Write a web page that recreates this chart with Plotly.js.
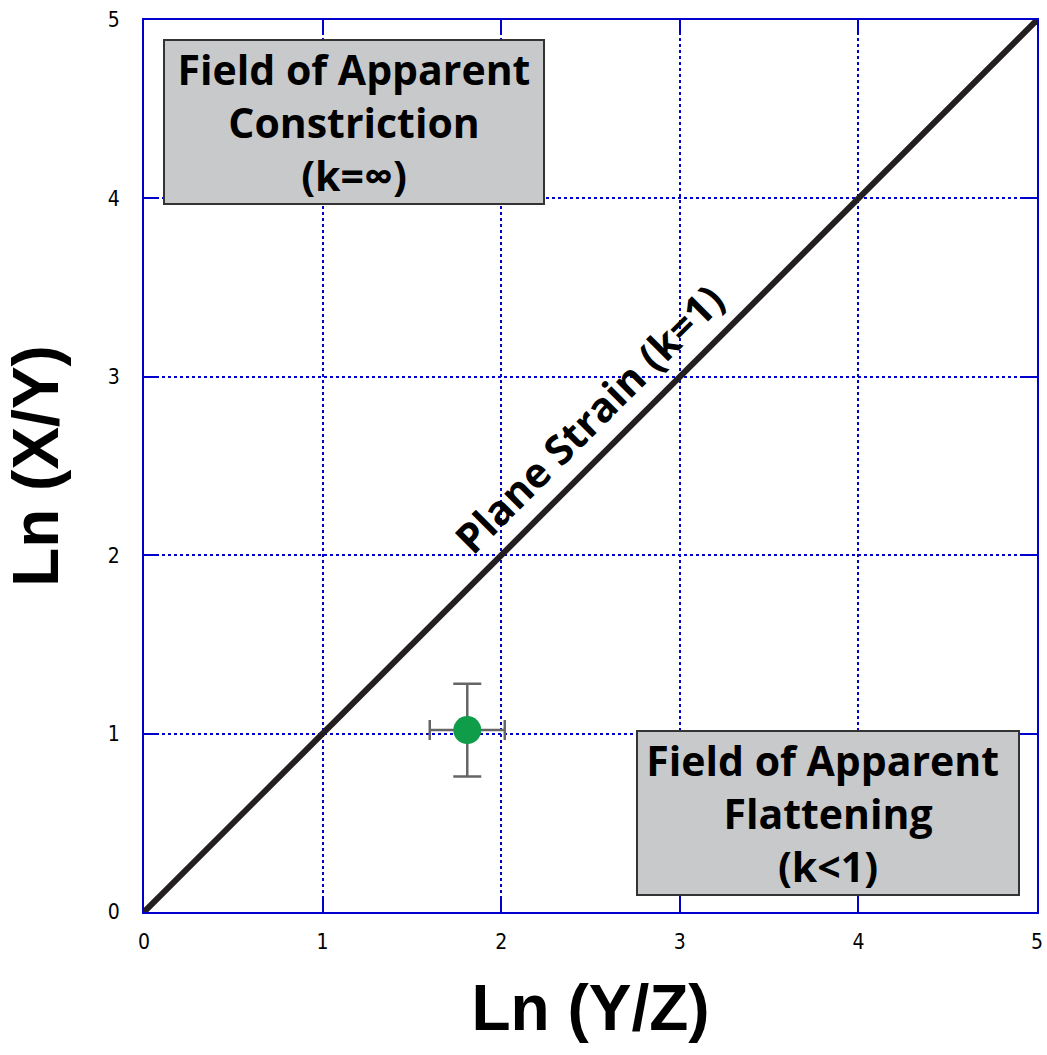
<!DOCTYPE html>
<html>
<head>
<meta charset="utf-8">
<script src="https://cdn.plot.ly/plotly-3.0.1.min.js"></script>
<style>html,body{margin:0;padding:0;background:#fff;}#chart{width:1047px;height:1055px;}</style>
</head>
<body>
<div id="chart"></div>
<script>
// Plane strain reference line (k=1)
const lineX = [0, 5];
const lineY = [0, 5];
// Sample point with error bars
const pointX = [1.81];
const pointY = [1.02];
const errX = [0.21];
const errY = [0.26];
const tickVals = [0, 1, 2, 3, 4, 5];
const tickText = ['0', '1', '2', '3', '4', '5'];
const labelConstriction = 'Field of Apparent<br>Constriction<br>(k=∞)';
const labelFlattening = 'Field of Apparent <br>Flattening<br>(k&lt;1)';
const labelPlane = 'Plane Strain (k=1)';

const blue = '#0000cc';
const traces = [
  {x: lineX, y: lineY, mode: 'lines', line: {color: '#231f20', width: 6}, hoverinfo: 'skip', showlegend: false},
  {x: pointX, y: pointY, mode: 'markers', marker: {color: '#0f9d4a', size: 28},
   error_x: {type: 'constant', value: errX[0], color: '#666666', thickness: 2.5, width: 10},
   error_y: {type: 'constant', value: errY[0], color: '#666666', thickness: 2.5, width: 14},
   showlegend: false}
];
const axisCommon = {
  range: [0, 5], tickvals: tickVals, ticktext: tickText,
  showgrid: true, gridcolor: blue, gridwidth: 2, griddash: 'dot',
  showline: true, linecolor: blue, linewidth: 2, mirror: 'ticks',
  ticks: 'inside', ticklen: 15, tickwidth: 2, tickcolor: blue,
  zeroline: false, fixedrange: true,
  tickfont: {family: 'Liberation Sans Narrow, DejaVu Sans Condensed, sans-serif', size: 21, color: '#000'}
};
const annFont = {family: 'Open Sans, sans-serif', size: 41, color: '#000', weight: 'bold'};
const titleFont = {family: 'Liberation Sans, Arial, sans-serif', size: 64, color: '#000', weight: 'bold'};
const layout = {
  width: 1047, height: 1055,
  margin: {l: 144, r: 10, t: 20, b: 143},
  paper_bgcolor: '#fff', plot_bgcolor: '#fff',
  xaxis: Object.assign({}, axisCommon, {
    ticklabelstandoff: 10,
    title: {text: 'Ln (Y/Z)', font: titleFont, standoff: 32}
  }),
  yaxis: Object.assign({}, axisCommon, {
    ticklabelstandoff: 18,
    title: {text: 'Ln (X/Y)', font: titleFont, standoff: 30}
  }),
  annotations: [
    {x: 1.176, y: 4.428, xref: 'x', yref: 'y', text: labelConstriction, showarrow: false,
     font: annFont, bgcolor: '#c8c9cb', bordercolor: '#333333', borderwidth: 2, borderpad: 2,
     width: 374, height: 158, align: 'center', valign: 'middle'},
    {x: 3.83, y: 0.555, xref: 'x', yref: 'y', text: labelFlattening, showarrow: false,
     font: annFont, bgcolor: '#c8c9cb', bordercolor: '#333333', borderwidth: 2, borderpad: 2,
     width: 376, height: 158, align: 'center', valign: 'middle'},
    {x: 2.49, y: 2.77, xref: 'x', yref: 'y', text: labelPlane, showarrow: false,
     font: {family: 'Open Sans, sans-serif', size: 41, color: '#000', weight: 'bold'}, textangle: -45}
  ]
};
Plotly.newPlot('chart', traces, layout, {displayModeBar: false, staticPlot: true});
</script>
</body>
</html>
